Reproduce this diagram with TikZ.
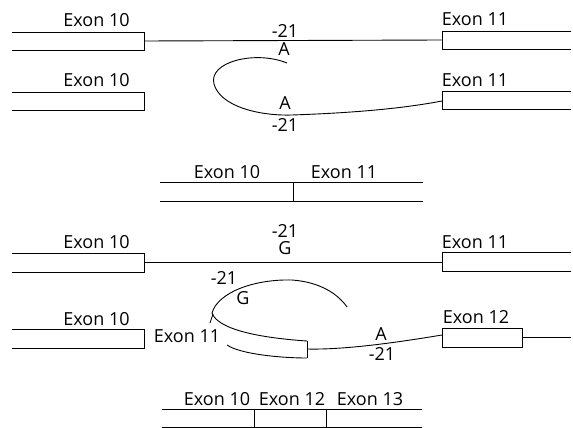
\documentclass[tikz,border=0pt]{standalone}
\usepackage{fontspec}
\setmainfont{Open Sans}
\begin{document}
\begin{tikzpicture}[x=1pt,y=-1pt,line width=0.9pt,
  lbl/.style={font=\fontsize{18}{21}\selectfont,inner sep=0pt,anchor=base},
  mk/.style={font=\fontsize{18}{21}\selectfont,inner sep=0pt}]
\useasboundingbox (0,0) rectangle (573,428);
% ---------- Section 1, row 1 ----------
\coordinate (a10r) at (144,41);
\coordinate (a11l) at (442,40);
\draw (12,32) -- (144,32) -- (144,50) -- (12,50);
\draw (571,31) -- (442,31) -- (442,49) -- (571,49);
\draw (a10r) -- (a11l);
\node[lbl] (la10) at (96.5,27) {Exon 10};
\node[lbl] (la11) at (475,26) {Exon 11};
\node[mk] (am21) at (285,31) {-21};
\node[mk] (aA) at (284,49) {A};
% ---------- Section 1, row 2 ----------
\coordinate (b11l) at (442,101);
\coordinate (bstart) at (287,63);
\draw (12,92) -- (144,92) -- (144,110) -- (12,110);
\draw (571,91) -- (442,91) -- (442,109) -- (571,109);
\draw (bstart) .. controls (255,50) and (208,62) .. (214,84)
  .. controls (220,106) and (258,116) .. (292,115)
  .. controls (350,113) and (400,109) .. (b11l);
\node[lbl] (lb10) at (96.5,86) {Exon 10};
\node[lbl] (lb11) at (475,86) {Exon 11};
\node[mk] (bA) at (285,103) {A};
\node[mk] (bm21) at (285,125) {-21};
% ---------- Section 2: spliced ----------
\coordinate (c1) at (160,182);
\coordinate (c2) at (423,182);
\coordinate (c3) at (160,201);
\coordinate (c4) at (423,201);
\draw (c1) -- (c2);
\draw (c3) -- (c4);
\draw (293,182) -- (293,201);
\node[lbl] (lc10) at (227,178) {Exon 10};
\node[lbl] (lc11) at (344,178) {Exon 11};
% ---------- Section 3, row 1 ----------
\coordinate (d10r) at (144,262);
\coordinate (d11l) at (442,262);
\draw (12,253) -- (144,253) -- (144,272) -- (12,272);
\draw (571,252) -- (442,252) -- (442,271) -- (571,271);
\draw (d10r) -- (d11l);
\node[lbl] (ld10) at (96.5,248) {Exon 10};
\node[lbl] (ld11) at (475,248) {Exon 11};
\node[mk] (dm21) at (285,231) {-21};
\node[mk] (dG) at (285,248) {G};
% ---------- Section 3, row 2 ----------
\draw (12,329) -- (144,329) -- (144,348) -- (12,348);
\draw (442,328) rectangle (522,347);
\coordinate (e12l) at (442,335);
\coordinate (e12r) at (522,337);
\coordinate (eend) at (571,337);
\coordinate (e11r) at (307,349);
\draw (e12r) -- (eend);
\draw (e12l) .. controls (400,342) and (345,350) .. (e11r);
% looped exon 11
\draw (307,341) -- (307,358);
\draw (307,341) .. controls (262,338) and (218,330) .. (212,313)
  .. controls (218,292) and (255,279) .. (292,280)
  .. controls (320,282) and (338,294) .. (347,307);
\draw (210,323) -- (213,314);
\draw (307,358) .. controls (280,358) and (240,354) .. (227,345);
\node[lbl] (le10) at (96.5,325) {Exon 10};
\node[lbl] (le12) at (476,323) {Exon 12};
\node[lbl] (le11) at (187,342) {Exon 11};
\node[mk] (em21) at (224,278) {-21};
\node[mk] (eG) at (243,298) {G};
\node[mk] (eA) at (381,334) {A};
\node[mk] (em21b) at (382,354) {-21};
% ---------- Section 4: alternative spliced ----------
\coordinate (f1) at (162,409);
\coordinate (f2) at (422,409);
\coordinate (f3) at (162,427);
\coordinate (f4) at (422,427);
\draw (f1) -- (f2);
\draw (f3) -- (f4);
\draw (254,409) -- (254,427);
\draw (326,409) -- (326,427);
\node[lbl] (lf10) at (217,405) {Exon 10};
\node[lbl] (lf12) at (292,405) {Exon 12};
\node[lbl] (lf13) at (370,405) {Exon 13};
\end{tikzpicture}
\end{document}
